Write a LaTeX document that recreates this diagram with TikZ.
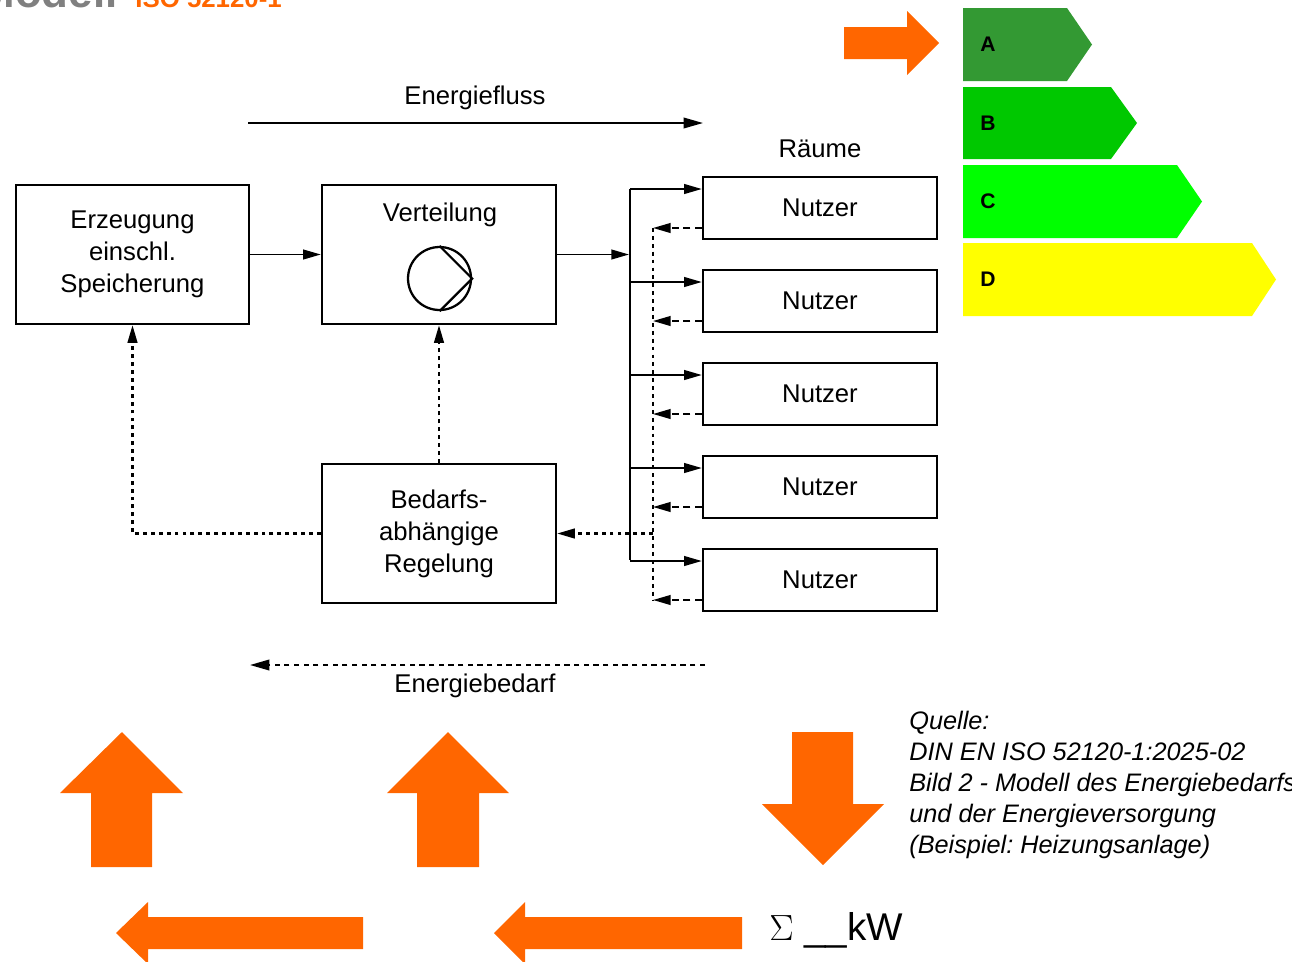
\documentclass[tikz,border=0pt]{standalone}
\usepackage{fontspec}
\setmainfont{Liberation Sans}
\usetikzlibrary{arrows.meta, calc}
\definecolor{ornge}{HTML}{FF6600}
\definecolor{titlegrey}{HTML}{808080}
\definecolor{classA}{HTML}{339933}
\definecolor{classB}{HTML}{00C800}
\definecolor{classC}{HTML}{00FF00}
\definecolor{classD}{HTML}{FFFF00}
\frenchspacing

\begin{document}
\begin{tikzpicture}[
  x=0.02cm, y=-0.02cm,
  every node/.style={font=\fontsize{14.6}{18.2}\selectfont, inner sep=0pt},
  block/.style={draw, line width=1.4pt, minimum width=4.67cm, minimum height=2.78cm, align=center},
  room/.style={draw, line width=1.4pt, minimum width=4.68cm, minimum height=1.24cm},
  flow/.style={line width=1.05pt, -{Triangle[length=10pt, width=5.5pt]}},
  dotline/.style={line width=1.2pt, dash pattern=on 2.2pt off 2.3pt},
  ctrl/.style={dotline, -{Triangle[length=10pt, width=5.5pt]}},
  ret/.style={line width=1.1pt, dash pattern=on 4pt off 2.5pt, -{Triangle[length=10pt, width=5.5pt]}},
  classlbl/.style={anchor=west, font=\fontsize{12}{14}\selectfont\bfseries}
]
\useasboundingbox (0,0) rectangle (1292,961);
\clip (0,0) rectangle (1292,961);

% title (cut off at the top)
\node[anchor=base east, font=\fontsize{25}{30}\selectfont\bfseries, text=titlegrey] (ttlA) at (118,7) {Modell};
\node[anchor=base west, font=\fontsize{14.7}{18}\selectfont\bfseries, text=ornge] (ttlB) at (135,7) {ISO 52120-1};

% Energiefluss
\coordinate (ef0) at (248,123);
\coordinate (ef1) at (703,123);
\draw[flow, -{Triangle[length=11pt, width=6pt]}] (ef0) -- (ef1);
\node (eflbl) at (475,98) {Energiefluss};

% blocks
\node[block] (erz) at (132.5,254.5) {Erzeugung\\einschl.\\Speicherung};
\node[block, minimum width=4.68cm] (vert) at (439,254.5) {};
\node (vertlbl) at (440,215) {Verteilung};
\node[draw, circle, line width=1.3pt, minimum size=1.26cm] (pump) at (439.5,278.5) {};
\draw[line width=1.3pt] (pump.north) -- (pump.east) -- (pump.south);
\node[block, minimum width=4.68cm] (bed) at (439,533.5) {Bedarfs-\\abhängige\\Regelung};

\draw[flow] (erz) -- (vert);

% distribution to the rooms
\coordinate (busin) at (629,254.5);
\coordinate (bustop) at (630,189);
\coordinate (busbot) at (630,560);
\draw[flow] (vert) -- (busin);
\draw[line width=1.05pt] (bustop) -- (busbot);

\node (raeume) at (820,149) {Räume};
\foreach \i/\y in {1/208,2/301,3/394,4/487,5/580} {
  \node[room] (n\i) at (820,\y) {Nutzer};
  \coordinate (b\i) at (630,\y-19);
  \coordinate (r\i) at (653,\y+20);
  \draw[flow] (b\i) -- (b\i -| n\i.west);
  \draw[ret] (r\i -| n\i.west) -- (r\i);
}
\draw[dotline] (r1) -- (r5);

% control
\coordinate (rj) at (653,533.5);
\draw[ctrl] (rj) -- (bed.east);
\draw[ctrl] (bed.west) -| (erz.south);
\draw[ctrl] (bed.north) -- (vert.south);

% Energiebedarf
\coordinate (eb0) at (705,665);
\coordinate (eb1) at (250,665);
\draw[line width=1.1pt, dash pattern=on 3pt off 2.5pt, -{Triangle[length=11pt, width=6pt]}] (eb0) -- (eb1);
\node (eblbl) at (475,686) {Energiebedarf};

% energy classes
\foreach \lbl/\yt/\yb/\xe/\xt/\col in {A/8/81/1067/1092/classA, B/87/159/1111/1137/classB,
                                       C/165/238/1177/1202/classC, D/243/316/1252/1276/classD} {
  \fill[\col] (963,\yt) -- (\xe,\yt) -- (\xt,{(\yt+\yb)/2}) -- (\xe,\yb) -- (963,\yb) -- cycle;
  \node[classlbl] (cls\lbl) at (980,{(\yt+\yb)/2}) {\lbl};
}

% orange arrows
\fill[ornge] (844,27) -- (907,27) -- (907,11) -- (939,43) -- (907,75) -- (907,59) -- (844,59) -- cycle;
\fill[ornge] (91,867) -- (91,793) -- (60,793) -- (122,732) -- (183,793) -- (152,793) -- (152,867) -- cycle;
\fill[ornge] (417,867) -- (417,793) -- (387,793) -- (448,732) -- (509,793) -- (479,793) -- (479,867) -- cycle;
\fill[ornge] (792,732) -- (853,732) -- (853,804) -- (884,804) -- (823,865) -- (762,804) -- (792,804) -- cycle;
\fill[ornge] (363,917) -- (148,917) -- (148,902) -- (116,933) -- (148,964) -- (148,949) -- (363,949) -- cycle;
\fill[ornge] (742,917) -- (525,917) -- (525,902) -- (494,933) -- (525,964) -- (525,949) -- (742,949) -- cycle;

\node[anchor=base west, font=\fontsize{22}{26}\selectfont] (sumkw) at (769,940) {$\Sigma$ \_\_kW};

% source
\node[anchor=north west, align=left, font=\fontsize{14.4}{17.6}\selectfont\itshape] (quelle) at (909,711)
  {Quelle:\\DIN EN ISO 52120-1:2025-02\\Bild 2 - Modell des Energiebedarfs\\und der Energieversorgung\\(Beispiel: Heizungsanlage)};
\end{tikzpicture}
\end{document}
